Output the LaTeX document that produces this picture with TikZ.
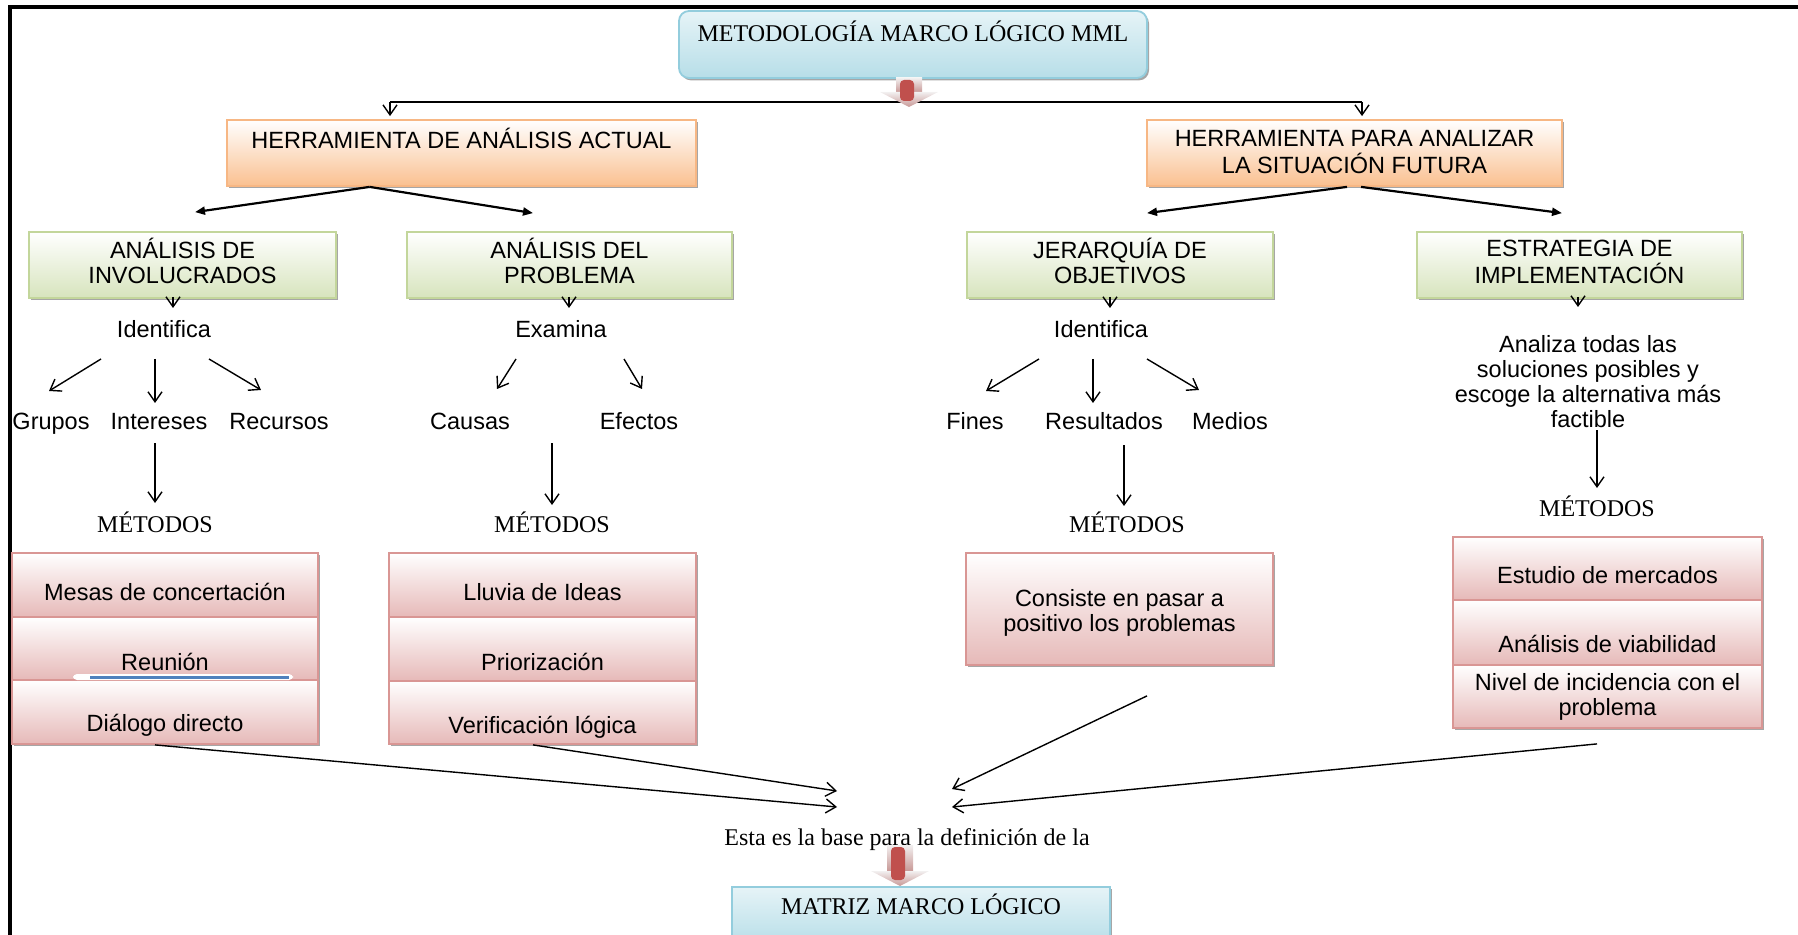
\documentclass[tikz,border=0pt]{standalone}
\usepackage{fontspec}
\setmainfont{Liberation Serif}
\setsansfont{Liberation Sans}
\usetikzlibrary{arrows.meta,shadows,calc}

\definecolor{redarrow}{HTML}{C0504D}
\definecolor{paletop}{HTML}{F2F0F0}
\definecolor{palebot}{HTML}{C89896}
\definecolor{bluefill}{HTML}{B7DEE8}
\definecolor{blueline}{HTML}{93CDDD}
\definecolor{orangefill}{HTML}{FAC090}
\definecolor{orangeline}{HTML}{F7B784}
\definecolor{greenfill}{HTML}{D7E4BD}
\definecolor{greenline}{HTML}{C3D69B}
\definecolor{pinkfill}{HTML}{E6B9B8}
\definecolor{pinkline}{HTML}{D99694}
\definecolor{artblue}{HTML}{4F81BD}

\newcommand\sanstext{\sffamily\fontsize{11.75pt}{12.5pt}\selectfont}
\newcommand\seriftext{\rmfamily\fontsize{12pt}{12.5pt}\selectfont}
\newcommand\liftby[2]{\raisebox{#1}[\height][\depth]{#2}}
\newcommand\txtlines[1]{\begin{tabular}{@{}c@{}}#1\end{tabular}}

\tikzset{
  % a rectangle given by its two corners, in the picture's pixel units
  span/.style args={#1,#2,#3,#4}{
    minimum width={(#3-#1)*0.5pt}, minimum height={(#4-#2)*0.5pt},
    at={({(#1+#3)/2},{(#2+#4)/2})}},
  box/.style={draw, line width=0.9pt, inner sep=0pt, font=\sanstext,
    drop shadow={shadow xshift=1pt, shadow yshift=-1.2pt, fill=black!35, opacity=1}},
  bluebox/.style={box, draw=blueline, top color=white!65!bluefill, bottom color=bluefill, font=\seriftext},
  orangebox/.style={box, draw=orangeline, top color=white, bottom color=orangefill},
  greenbox/.style={box, draw=greenline, top color=white, bottom color=greenfill},
  pinkbox/.style={box, draw=pinkline, top color=white, bottom color=pinkfill},
  lbl/.style={font=\sanstext, inner sep=0pt},
  meth/.style={font=\seriftext, inner sep=0pt},
  con/.style={line width=0.7pt, -{Straight Barb[length=5pt,width=7pt]}},
  fatcon/.style={line width=1.1pt, -{Triangle[length=5pt,width=4pt]}},
  pics/blockarrow/.style={code={
    \shade[top color=paletop, bottom color=palebot] (-13,-#1) rectangle (13,-15);
    \shade[top color=paletop, bottom color=palebot] (-29,-15) -- (29,-15) -- (0,0) -- cycle;
    \fill[redarrow, rounded corners=2pt] (-9,2-#1) rectangle (5,-6);
  }},
}

\begin{document}
\begin{tikzpicture}[x=0.5pt,y=-0.5pt]
\useasboundingbox (0,0) rectangle (1798,935);

% outer frame (top and left edges)
\draw[line width=2pt] (9.5,945) -- (9.5,7) -- (1805,7);

% title
\node[bluebox, rounded corners=5pt, span={679,11,1147,78}] (mml)
  {\liftby{4.75pt}{\txtlines{METODOLOGÍA MARCO LÓGICO MML}}};

% first level
\node[orangebox, span={227,120,696,186}] (h1)
  {\liftby{5.25pt}{\txtlines{HERRAMIENTA DE ANÁLISIS ACTUAL}}};
\node[orangebox, span={1147,120,1562,186}] (h2)
  {\liftby{-1pt}{\txtlines{HERRAMIENTA PARA ANALIZAR\\LA SITUACIÓN FUTURA}}};

% branching line below the title
\coordinate (busL) at (390,102);
\coordinate (busR) at (1362,102);
\draw[line width=0.9pt] (busL) -- (busR);
\draw[con, shorten >=1.5pt] (busL) -- (busL |- h1.north);
\draw[con, shorten >=1.5pt] (busR) -- (busR |- h2.north);
\pic at (909,107) {blockarrow=29};

% second level
\node[greenbox, span={29,232,336,298}] (g1) {\txtlines{ANÁLISIS DE\\INVOLUCRADOS}};
\node[greenbox, span={407,232,732,298}] (g2) {\txtlines{ANÁLISIS DEL\\PROBLEMA}};
\node[greenbox, span={967,232,1273,298}] (g3) {\txtlines{JERARQUÍA DE\\OBJETIVOS}};
\node[greenbox, span={1417,232,1742,298}] (g4) {\txtlines{ESTRATEGIA DE\\IMPLEMENTACIÓN}};

\draw[fatcon] ($(h1.south west)!0.305!(h1.south east)$) -- ($(g1.north)+(12.5,-19)$);
\draw[fatcon] ($(h1.south west)!0.305!(h1.south east)$) -- ($(g2.north)+(-36.5,-18)$);
\draw[fatcon] ($(h2.south)+(-7.5,0)$) -- ($(g3.north)+(27,-18)$);
\draw[fatcon] ($(h2.south)+(6.5,0)$) -- ($(g4.north)+(-17.5,-18)$);

% labels
\node[lbl] (id1) at (164,332.5) {\txtlines{Identifica}};
\node[lbl] (grupos) at (51,424.5) {\txtlines{Grupos}};
\node[lbl] (intereses) at (159,424.5) {\txtlines{Intereses}};
\node[lbl] (recursos) at (279,424.5) {\txtlines{Recursos}};
\node[meth] (met1) at (155,526) {\txtlines{MÉTODOS}};

\node[lbl] (exam) at (561,332.5) {\txtlines{Examina}};
\node[lbl] (causas) at (470,424.5) {\txtlines{Causas}};
\node[lbl] (efectos) at (639,424.5) {\txtlines{Efectos}};
\node[meth] (met2) at (552,526) {\txtlines{MÉTODOS}};

\node[lbl] (id3) at (1101,332.5) {\txtlines{Identifica}};
\node[lbl] (fines) at (975,424.5) {\txtlines{Fines}};
\node[lbl] (resultados) at (1104,424.5) {\txtlines{Resultados}};
\node[lbl] (medios) at (1230,424.5) {\txtlines{Medios}};
\node[meth] (met3) at (1127,526) {\txtlines{MÉTODOS}};

\node[lbl] (analiza) at (1588,385)
  {\txtlines{Analiza todas las\\soluciones posibles y\\escoge la alternativa más\\factible}};
\node[meth] (met4) at (1597,510) {\txtlines{MÉTODOS}};

% connectors from the second level
\draw[con] ($(g1.south)+(-9.5,-2)$) -- ($(id1)+(9,-24.5)$);
\draw[con] ($(id1)+(-63,26.5)$) -- ($(grupos)+(-2,-33.5)$);
\draw[con] ($(id1)+(-9,26.5)$) -- ($(intereses)+(-4,-21.5)$);
\draw[con] ($(id1)+(45,26.5)$) -- ($(recursos)+(-18,-34.5)$);
\draw[con] ($(intereses)+(-4,18.5)$) -- ($(met1)+(0,-23)$);

\draw[con] ($(g2.south)+(-0.5,-2)$) -- ($(exam)+(8,-24.5)$);
\draw[con] ($(exam)+(-45,26.5)$) -- ($(causas)+(27,-35.5)$);
\draw[con] ($(exam)+(63,26.5)$) -- ($(efectos)+(3,-35.5)$);
\draw[con] ($($(causas)!0.5!(efectos)$)+(-2.5,18.5)$) -- ($(met2)+(0,-21)$);

\draw[con] ($(g3.south)+(-10,-2)$) -- ($(id3)+(9,-24.5)$);
\draw[con] ($(id3)+(-62,26.5)$) -- ($(fines)+(11,-33.5)$);
\draw[con] ($(id3)+(-8,26.5)$) -- ($(resultados)+(-11,-21.5)$);
\draw[con] ($(id3)+(46,26.5)$) -- ($(medios)+(-31,-34.5)$);
\draw[con] ($(resultados)+(20,20.5)$) -- ($(met3)+(-3,-20)$);

\draw[con] ($(g4.south)+(-1.5,-2)$) -- ($(analiza)+(-10,-78)$);
\draw[con] ($(analiza)+(9,45)$) -- ($(met4)+(0,-22)$);

% method boxes
\node[pinkbox, span={12,553,318,617}] (m11) {\liftby{-5.25pt}{\txtlines{Mesas de concertación}}};
\node[pinkbox, span={12,617,318,680}] (m12) {\liftby{-8.5pt}{\txtlines{Reunión}}};
\node[pinkbox, span={12,680,318,744}] (m13) {\liftby{-7.25pt}{\txtlines{Diálogo directo}}};
\fill[white, rounded corners=2pt] (73,674) rectangle (293,680);
\draw[artblue, line width=1.5pt] (90,677.5) -- (289,677.5);

\node[pinkbox, span={389,553,696,617}] (m21) {\liftby{-5.25pt}{\txtlines{Lluvia de Ideas}}};
\node[pinkbox, span={389,617,696,681}] (m22) {\liftby{-8.25pt}{\txtlines{Priorización}}};
\node[pinkbox, span={389,681,696,744}] (m23) {\liftby{-8pt}{\txtlines{Verificación lógica}}};

\node[pinkbox, span={966,553,1273,665}] (m3)
  {\liftby{-2.5pt}{\txtlines{Consiste en pasar a\\positivo los problemas}}};

\node[pinkbox, span={1453,537,1762,600}] (m41) {\liftby{-5pt}{\txtlines{Estudio de mercados}}};
\node[pinkbox, span={1453,600,1762,665}] (m42) {\liftby{-7.5pt}{\txtlines{Análisis de viabilidad}}};
\node[pinkbox, span={1453,665,1762,728}] (m43)
  {\liftby{-0.75pt}{\txtlines{Nivel de incidencia con el\\problema}}};

% convergence towards the matrix
\node[meth] (base) at (907,840) {\txtlines{Esta es la base para la definición de la}};
\draw[con] ($(m13.south)+(-10,0)$) -- ($(base)+(-70,-33)$);
\draw[con] ($(m23.south)+(-9.5,0)$) -- ($(base)+(-70,-49)$);
\draw[con] ($(m3.south)+(27.5,30)$) -- ($(base)+(45,-51)$);
\draw[con] ($(m43.south)+(-10.5,15)$) -- ($(base)+(45,-33)$);

\pic at (900,886) {blockarrow=41};

\node[bluebox, span={732,887,1110,945}] (mlm)
  {\liftby{4pt}{\txtlines{MATRIZ MARCO LÓGICO}}};
\end{tikzpicture}
\end{document}
